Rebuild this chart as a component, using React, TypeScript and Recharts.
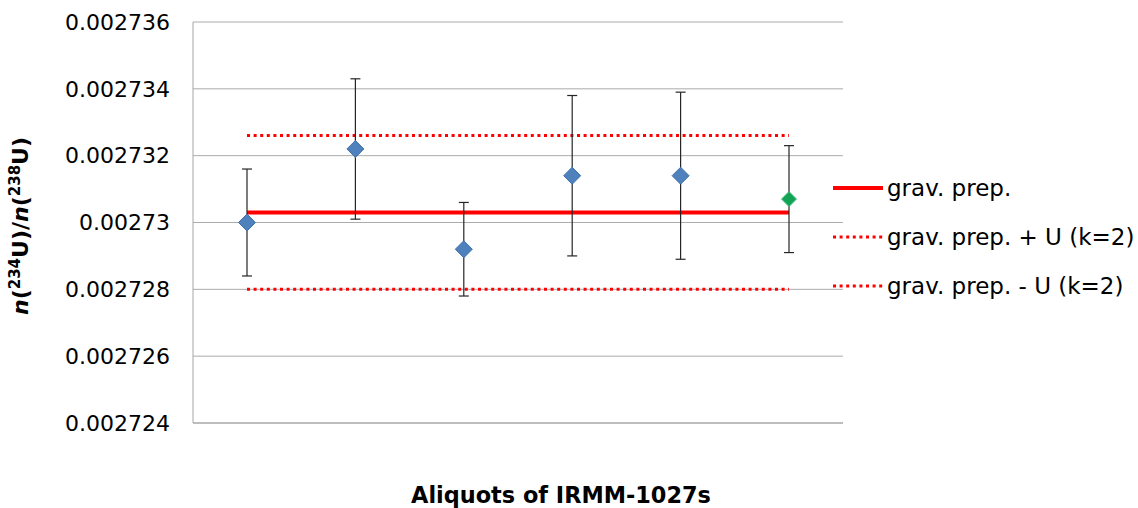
import React from 'react';
import { ComposedChart, Line, XAxis, YAxis, CartesianGrid, ErrorBar, Legend } from 'recharts';

const aliquots = ['1', '2', '3', '4', '5', '6'];
const ratios = [0.00273, 0.0027322, 0.0027292, 0.0027314, 0.0027314, 0.0027307];
const uncertainties = [0.0000016, 0.0000021, 0.0000014, 0.0000024, 0.0000025, 0.0000016];
const gravPrep = 0.0027303;
const gravPrepUpper = 0.0027326;
const gravPrepLower = 0.002728;
const yTicks = [0.002724, 0.002726, 0.002728, 0.00273, 0.002732, 0.002734, 0.002736];

const chartData = aliquots.map((name, i) => ({
  name,
  ratio: ratios[i],
  err: uncertainties[i],
  grav: gravPrep,
  upper: gravPrepUpper,
  lower: gravPrepLower,
}));

const FONT = '"DejaVu Sans", Verdana, sans-serif';

function Diamond(props: any) {
  const { cx, cy, index } = props;
  if (cx == null || cy == null) return null;
  const last = index === aliquots.length - 1;
  const r = last ? 7.5 : 8.5;
  const fill = last ? '#12a356' : '#4f81bd';
  const stroke = last ? '#4fbf86' : '#3f72ad';
  return (
    <polygon
      key={`d-${index}`}
      points={`${cx},${cy - r} ${cx + r},${cy} ${cx},${cy + r} ${cx - r},${cy}`}
      fill={fill}
      stroke={stroke}
      strokeWidth={1}
    />
  );
}

function YTitle() {
  return (
    <text
      transform="rotate(-90)"
      x={-226}
      y={28}
      textAnchor="middle"
      fontFamily={FONT}
      fontWeight="bold"
      fontSize={22}
      fill="#000"
    >
      <tspan fontStyle="italic">n</tspan>
      <tspan>(</tspan>
      <tspan fontSize={15} dy={-8}>234</tspan>
      <tspan dy={8}>U)/</tspan>
      <tspan fontStyle="italic">n</tspan>
      <tspan>(</tspan>
      <tspan fontSize={15} dy={-8}>238</tspan>
      <tspan dy={8}>U)</tspan>
    </text>
  );
}

function XTitle() {
  return (
    <text x={561} y={503} textAnchor="middle" fontFamily={FONT} fontWeight="bold" fontSize={22.4} fill="#000">
      Aliquots of IRMM-1027s
    </text>
  );
}

const legendItems = [
  { label: 'grav. prep.', dash: undefined, width: 4 },
  { label: 'grav. prep. + U (k=2)', dash: '3 3.6', width: 3 },
  { label: 'grav. prep. - U (k=2)', dash: '3 3.6', width: 3 },
];

function LegendBox() {
  return (
    <div style={{ fontFamily: FONT, fontSize: 23, color: '#000' }}>
      {legendItems.map((item) => (
        <div key={item.label} style={{ height: 49, display: 'flex', alignItems: 'center', whiteSpace: 'nowrap' }}>
          <svg width={50} height={8} style={{ marginRight: 4 }}>
            <line x1={0} y1={4} x2={50} y2={4} stroke="#ff0000" strokeWidth={item.width} strokeDasharray={item.dash} />
          </svg>
          <span>{item.label}</span>
        </div>
      ))}
    </div>
  );
}

export default function App() {
  return (
    <div style={{ position: 'absolute', left: 0, top: 0, width: 1138, height: 508, background: '#fff', fontFamily: FONT }}>
      <ComposedChart width={1138} height={508} data={chartData} margin={{ top: 22, right: 295, bottom: 0, left: 0 }}>
        <CartesianGrid vertical={false} stroke="#ababab" />
        <XAxis
          dataKey="name"
          tick={false}
          tickLine={false}
          height={85}
          stroke="#a6a6a6"
          padding={{ left: 54, right: 54 }}
          label={<XTitle />}
        />
        <YAxis
          domain={[0.002724, 0.002736]}
          ticks={yTicks}
          width={193}
          tickLine={false}
          tickSize={0}
          tickMargin={23}
          stroke="#a6a6a6"
          tick={{ fill: '#000', fontSize: 22, fontFamily: FONT }}
          tickFormatter={(v: number) => String(parseFloat(v.toFixed(6)))}
          label={<YTitle />}
        />
        <Legend
          layout="vertical"
          align="center"
          verticalAlign="middle"
          content={<LegendBox />}
          wrapperStyle={{ position: 'absolute', left: 833, top: 163, width: 305, height: 150 }}
        />
        <Line dataKey="upper" name="grav. prep. + U (k=2)" stroke="#ff0000" strokeWidth={3} strokeDasharray="3 3.6" dot={false} activeDot={false} isAnimationActive={false} />
        <Line dataKey="lower" name="grav. prep. - U (k=2)" stroke="#ff0000" strokeWidth={3} strokeDasharray="3 3.6" dot={false} activeDot={false} isAnimationActive={false} />
        <Line dataKey="grav" name="grav. prep." stroke="#ff0000" strokeWidth={4} dot={false} activeDot={false} isAnimationActive={false} />
        <Line dataKey="ratio" stroke="none" dot={Diamond} activeDot={false} legendType="none" isAnimationActive={false}>
          <ErrorBar dataKey="err" direction="y" width={5} stroke="#262626" strokeWidth={1.2} />
        </Line>
      </ComposedChart>
    </div>
  );
}
